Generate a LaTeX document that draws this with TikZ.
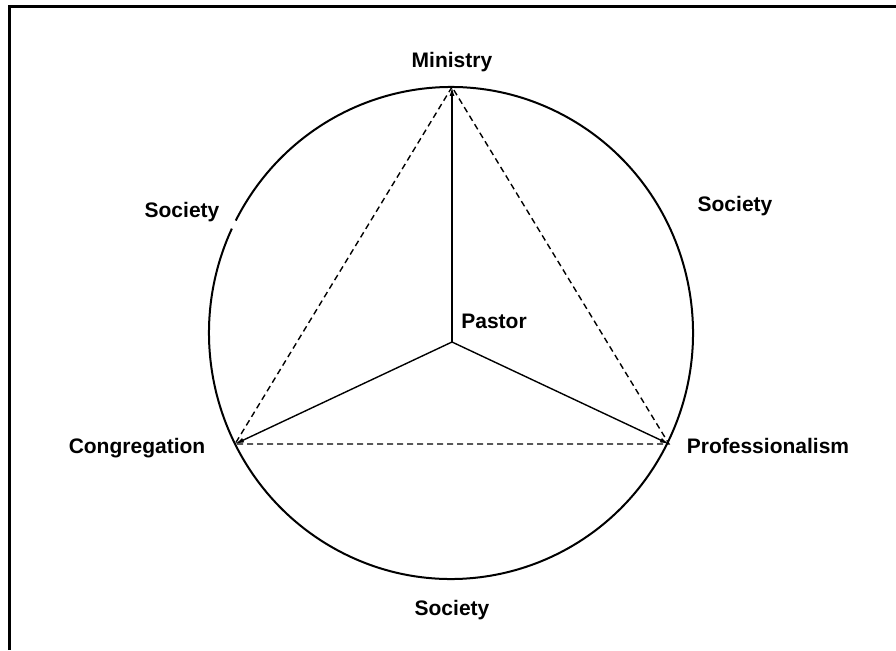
\documentclass[tikz,border=0pt]{standalone}
\usepackage{fontspec}
\setmainfont{Liberation Sans}
\usetikzlibrary{arrows.meta}
\begin{document}
\begin{tikzpicture}[x=1pt,y=-1pt,
  lbl/.style={font=\fontsize{21}{24}\selectfont\bfseries, inner sep=0pt},
  spoke/.style={line width=1.4pt, -{Latex[length=9pt,width=5pt]}},
  tri/.style={line width=1.4pt, dash pattern=on 6pt off 4pt},
  ring/.style={line width=2pt}]
\useasboundingbox (0,0) rectangle (896,650);
\draw[line width=3pt] (9,650) -- (9,7) -- (896,7);
\coordinate (O) at (451,333);
\coordinate (P) at (452,342);
\coordinate (M) at (452,87);
\coordinate (C) at (235,444);
\coordinate (R) at (669,444);
\draw[ring] ([shift={(-152.8:242 and 246)}]O) arc[start angle=-152.8, end angle=205.1, x radius=242, y radius=246];
\draw[tri] (M) -- (C) -- (R) -- cycle;
\draw[spoke] (P) -- (M);
\draw[spoke] (P) -- (C);
\draw[spoke] (P) -- (R);
\node[lbl] (lm) at (452,62) {Ministry};
\node[lbl] (lp) at (494,321) {Pastor};
\node[lbl] (ls1) at (182,212) {Society};
\node[lbl] (ls2) at (735,206) {Society};
\node[lbl] (ls3) at (452,610) {Society};
\node[lbl] (lc) at (137,448) {Congregation};
\node[lbl] (lpr) at (768,446) {Professionalism};
\end{tikzpicture}
\end{document}
